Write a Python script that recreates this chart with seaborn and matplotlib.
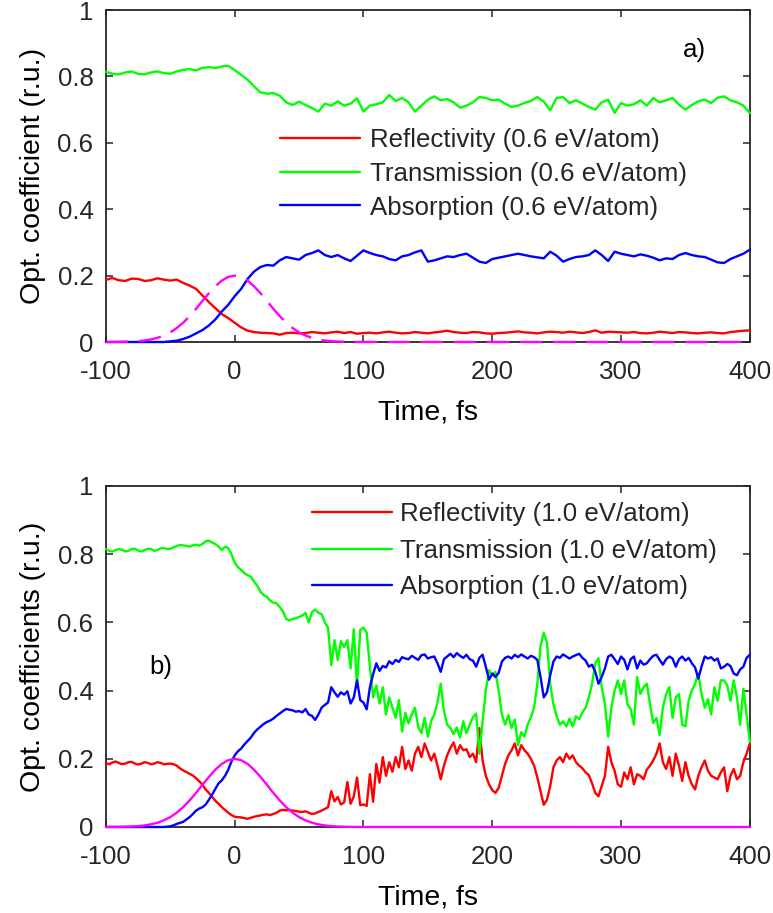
import numpy as np
import matplotlib
matplotlib.use("Agg")
import matplotlib.pyplot as plt
import seaborn as sns

# ---------------- data ----------------
# panel a: 0.6 eV/atom, sampled every 5 fs from -100 to 400 fs
t_a = np.arange(-100, 400.1, 5.0)

R_a = [0.187, 0.193, 0.186, 0.184, 0.191, 0.190, 0.184, 0.186, 0.192, 0.188,
       0.185, 0.188, 0.178, 0.170, 0.160, 0.140, 0.120, 0.102, 0.084, 0.072,
       0.058, 0.044, 0.034, 0.030, 0.028, 0.027, 0.026, 0.022, 0.027, 0.028,
       0.026, 0.027, 0.030, 0.028, 0.026, 0.029, 0.031, 0.027, 0.030, 0.025,
       0.027, 0.028, 0.026, 0.029, 0.031, 0.028, 0.026, 0.027, 0.030, 0.028,
       0.026, 0.029, 0.031, 0.034, 0.030, 0.028, 0.027, 0.030, 0.029, 0.026,
       0.025, 0.027, 0.028, 0.030, 0.032, 0.029, 0.028, 0.026, 0.029, 0.031,
       0.030, 0.028, 0.031, 0.029, 0.027, 0.030, 0.035, 0.028, 0.031, 0.030,
       0.029, 0.028, 0.030, 0.027, 0.026, 0.028, 0.031, 0.029, 0.027, 0.030,
       0.029, 0.027, 0.026, 0.028, 0.029, 0.027, 0.026, 0.030, 0.032, 0.034,
       0.035]

T_a = [0.814, 0.808, 0.806, 0.812, 0.815, 0.808, 0.806, 0.812, 0.815, 0.810,
       0.808, 0.815, 0.820, 0.822, 0.818, 0.826, 0.828, 0.825, 0.830, 0.832,
       0.819, 0.805, 0.790, 0.770, 0.752, 0.748, 0.750, 0.742, 0.722, 0.714,
       0.724, 0.714, 0.705, 0.694, 0.718, 0.712, 0.725, 0.712, 0.718, 0.734,
       0.694, 0.712, 0.716, 0.722, 0.744, 0.726, 0.735, 0.722, 0.694, 0.712,
       0.730, 0.740, 0.728, 0.732, 0.722, 0.706, 0.712, 0.722, 0.738, 0.735,
       0.728, 0.730, 0.718, 0.708, 0.712, 0.720, 0.726, 0.738, 0.724, 0.698,
       0.735, 0.738, 0.720, 0.728, 0.718, 0.708, 0.700, 0.722, 0.730, 0.690,
       0.720, 0.712, 0.716, 0.728, 0.712, 0.735, 0.722, 0.728, 0.735, 0.715,
       0.700, 0.714, 0.725, 0.730, 0.720, 0.736, 0.740, 0.728, 0.722, 0.712,
       0.690]

A_a = [0.000, 0.000, 0.000, 0.000, 0.000, 0.000, 0.000, 0.000, 0.000, 0.000,
       0.002, 0.004, 0.009, 0.016, 0.026, 0.036, 0.050, 0.068, 0.092, 0.112,
       0.138, 0.160, 0.190, 0.212, 0.226, 0.232, 0.230, 0.246, 0.256, 0.252,
       0.248, 0.262, 0.268, 0.276, 0.262, 0.256, 0.262, 0.252, 0.244, 0.260,
       0.276, 0.268, 0.262, 0.258, 0.250, 0.246, 0.258, 0.262, 0.270, 0.276,
       0.242, 0.246, 0.252, 0.258, 0.256, 0.262, 0.266, 0.254, 0.242, 0.238,
       0.250, 0.254, 0.258, 0.262, 0.266, 0.262, 0.258, 0.255, 0.252, 0.272,
       0.260, 0.242, 0.250, 0.256, 0.258, 0.262, 0.276, 0.262, 0.244, 0.272,
       0.266, 0.262, 0.258, 0.264, 0.260, 0.254, 0.246, 0.252, 0.250, 0.262,
       0.268, 0.262, 0.258, 0.256, 0.248, 0.240, 0.238, 0.250, 0.258, 0.266,
       0.278]

# panel b: 1.0 eV/atom, sampled every 2.5 fs from -100 to 400 fs
t_b = np.arange(-100, 400.1, 2.5)

R_b = [0.187, 0.184, 0.189, 0.192, 0.188, 0.184, 0.186, 0.190, 0.191, 0.186,
       0.183, 0.186, 0.190, 0.188, 0.184, 0.186, 0.190, 0.188, 0.184, 0.185,
       0.186, 0.184, 0.180, 0.172, 0.166, 0.161, 0.156, 0.151, 0.143, 0.134,
       0.124, 0.110, 0.100, 0.088, 0.077, 0.068, 0.058, 0.050, 0.042, 0.035,
       0.030, 0.029, 0.028, 0.026, 0.024, 0.027, 0.030, 0.032, 0.034, 0.036,
       0.037, 0.035, 0.038, 0.042, 0.048, 0.050, 0.049, 0.050, 0.048, 0.047,
       0.045, 0.044, 0.046, 0.042, 0.038, 0.040, 0.044, 0.048, 0.053, 0.058,
       0.105, 0.075, 0.088, 0.066, 0.072, 0.132, 0.068, 0.090, 0.145, 0.064,
       0.066, 0.062, 0.155, 0.074, 0.185, 0.130, 0.205, 0.150, 0.190, 0.162,
       0.205, 0.175, 0.235, 0.170, 0.195, 0.165, 0.215, 0.235, 0.205, 0.245,
       0.220, 0.195, 0.215, 0.180, 0.140, 0.180, 0.210, 0.232, 0.248, 0.215,
       0.240, 0.225, 0.228, 0.205, 0.215, 0.190, 0.290, 0.195, 0.150, 0.125,
       0.108, 0.100, 0.115, 0.150, 0.185, 0.210, 0.225, 0.245, 0.210, 0.240,
       0.225, 0.215, 0.200, 0.180, 0.145, 0.105, 0.065, 0.080, 0.120, 0.175,
       0.195, 0.205, 0.190, 0.215, 0.200, 0.210, 0.190, 0.180, 0.172, 0.160,
       0.152, 0.128, 0.100, 0.090, 0.120, 0.150, 0.235, 0.190, 0.165, 0.125,
       0.118, 0.160, 0.140, 0.175, 0.125, 0.155, 0.150, 0.140, 0.168, 0.180,
       0.195, 0.215, 0.245, 0.190, 0.170, 0.205, 0.150, 0.215, 0.180, 0.135,
       0.190, 0.150, 0.125, 0.110, 0.150, 0.175, 0.195, 0.165, 0.150, 0.145,
       0.140, 0.160, 0.175, 0.105, 0.150, 0.170, 0.140, 0.150, 0.190, 0.215,
       0.245]

T_b = [0.815, 0.810, 0.808, 0.812, 0.815, 0.813, 0.808, 0.810, 0.815, 0.816,
       0.811, 0.808, 0.812, 0.816, 0.815, 0.810, 0.812, 0.817, 0.818, 0.815,
       0.816, 0.820, 0.824, 0.827, 0.826, 0.824, 0.822, 0.826, 0.828, 0.825,
       0.830, 0.838, 0.840, 0.834, 0.830, 0.822, 0.812, 0.822, 0.818, 0.800,
       0.775, 0.762, 0.754, 0.745, 0.738, 0.734, 0.720, 0.708, 0.690, 0.680,
       0.675, 0.664, 0.658, 0.656, 0.645, 0.632, 0.610, 0.606, 0.610, 0.612,
       0.616, 0.620, 0.628, 0.600, 0.630, 0.638, 0.628, 0.624, 0.600, 0.585,
       0.475, 0.548, 0.490, 0.545, 0.528, 0.548, 0.465, 0.580, 0.410, 0.578,
       0.585, 0.570, 0.470, 0.380, 0.415, 0.362, 0.410, 0.330, 0.380, 0.350,
       0.320, 0.372, 0.280, 0.335, 0.304, 0.330, 0.350, 0.294, 0.275, 0.320,
       0.265, 0.310, 0.330, 0.365, 0.420, 0.340, 0.300, 0.290, 0.272, 0.292,
       0.262, 0.310, 0.275, 0.300, 0.322, 0.333, 0.215, 0.310, 0.400, 0.460,
       0.445, 0.455, 0.400, 0.330, 0.300, 0.328, 0.290, 0.315, 0.240, 0.278,
       0.265, 0.300, 0.322, 0.350, 0.420, 0.530, 0.570, 0.540, 0.420, 0.360,
       0.325, 0.300, 0.310, 0.295, 0.318, 0.295, 0.325, 0.316, 0.336, 0.350,
       0.380, 0.420, 0.480, 0.495, 0.410, 0.360, 0.265, 0.350, 0.400, 0.430,
       0.390, 0.430, 0.360, 0.345, 0.300, 0.440, 0.390, 0.410, 0.420, 0.360,
       0.305, 0.320, 0.270, 0.350, 0.390, 0.410, 0.320, 0.380, 0.390, 0.300,
       0.295, 0.370, 0.400, 0.420, 0.450, 0.390, 0.350, 0.375, 0.330, 0.410,
       0.370, 0.430, 0.430, 0.415, 0.370, 0.430, 0.380, 0.300, 0.405, 0.330,
       0.250]

A_b = [0.000, 0.000, 0.000, 0.000, 0.000, 0.000, 0.000, 0.000, 0.000, 0.000,
       0.000, 0.000, 0.000, 0.000, 0.000, 0.000, 0.000, 0.000, 0.000, 0.001,
       0.002, 0.005, 0.009, 0.012, 0.015, 0.022, 0.029, 0.038, 0.048, 0.054,
       0.058, 0.066, 0.080, 0.095, 0.112, 0.128, 0.137, 0.150, 0.168, 0.192,
       0.210, 0.222, 0.230, 0.242, 0.252, 0.262, 0.276, 0.286, 0.294, 0.302,
       0.308, 0.312, 0.318, 0.326, 0.333, 0.340, 0.346, 0.344, 0.342, 0.338,
       0.340, 0.336, 0.346, 0.330, 0.326, 0.314, 0.330, 0.350, 0.358, 0.365,
       0.410, 0.395, 0.382, 0.395, 0.388, 0.398, 0.362, 0.380, 0.430, 0.372,
       0.365, 0.345, 0.410, 0.448, 0.480, 0.458, 0.472, 0.468, 0.486, 0.478,
       0.490, 0.484, 0.498, 0.494, 0.492, 0.502, 0.496, 0.490, 0.504, 0.506,
       0.494, 0.498, 0.500, 0.480, 0.455, 0.492, 0.500, 0.508, 0.498, 0.510,
       0.502, 0.496, 0.505, 0.492, 0.488, 0.470, 0.496, 0.505, 0.470, 0.432,
       0.450, 0.440, 0.452, 0.485, 0.496, 0.500, 0.494, 0.505, 0.498, 0.506,
       0.500, 0.494, 0.502, 0.498, 0.490, 0.440, 0.380, 0.395, 0.445, 0.485,
       0.500, 0.496, 0.506, 0.500, 0.494, 0.500, 0.504, 0.508, 0.496, 0.488,
       0.470, 0.476, 0.455, 0.420, 0.440, 0.465, 0.500, 0.505, 0.492, 0.478,
       0.500, 0.490, 0.462, 0.492, 0.500, 0.465, 0.488, 0.476, 0.480, 0.492,
       0.502, 0.505, 0.490, 0.476, 0.492, 0.500, 0.494, 0.470, 0.492, 0.500,
       0.488, 0.496, 0.480, 0.468, 0.435, 0.470, 0.500, 0.494, 0.498, 0.488,
       0.494, 0.465, 0.470, 0.478, 0.472, 0.450, 0.445, 0.462, 0.470, 0.496,
       0.505]

# laser pulse envelope (arb. scale), -100..100 fs every 5 fs, then zero to 400 fs
pulse_t = [-100, -95, -90, -85, -80, -75, -70, -65, -60, -55,
           -50, -45, -40, -35, -30, -25, -20, -15, -10, -5,
           0, 5, 10, 15, 20, 25, 30, 35, 40, 45,
           50, 55, 60, 65, 70, 75, 80, 85, 90, 95,
           100, 400]
pulse = [0.0001, 0.0002, 0.0004, 0.0008, 0.0015, 0.0026, 0.0046, 0.0078, 0.0125, 0.0195,
         0.029, 0.042, 0.058, 0.078, 0.100, 0.124, 0.147, 0.168, 0.185, 0.196,
         0.200, 0.196, 0.185, 0.168, 0.147, 0.124, 0.100, 0.078, 0.058, 0.042,
         0.029, 0.0195, 0.0125, 0.0078, 0.0046, 0.0026, 0.0015, 0.0008, 0.0004, 0.0002,
         0.0001, 0.0]

x_ticks = [-100, 0, 100, 200, 300, 400]
x_ticklabels = ["-100", "0", "100", "200", "300", "400"]
y_ticks = [0, 0.2, 0.4, 0.6, 0.8, 1.0]
y_ticklabels = ["0", "0.2", "0.4", "0.6", "0.8", "1"]

labels_a = ["Reflectivity (0.6 eV/atom)", "Transmission (0.6 eV/atom)",
            "Absorption (0.6 eV/atom)"]
labels_b = ["Reflectivity (1.0 eV/atom)", "Transmission (1.0 eV/atom)",
            "Absorption (1.0 eV/atom)"]

# ---------------- style ----------------
sns.set_theme(style="ticks")
plt.rcParams["font.family"] = ["Liberation Sans", "DejaVu Sans"]
plt.rcParams["axes.unicode_minus"] = False

INK = "#262626"
FS = 18.6
LABEL_FS = 20.5
LW = 1.7
C_R, C_T, C_A, C_P = "#ff0000", "#00ff00", "#0000ff", "#ff00ff"

fig = plt.figure(figsize=(7.73, 9.13), dpi=100)
ax_a = fig.add_axes([0.137, 0.6254, 0.833, 0.3636])
ax_b = fig.add_axes([0.137, 0.0942, 0.833, 0.3735])


def draw_panel(ax, t, R, T, A, labels, pulse_style, ylabel):
    sns.lineplot(x=t, y=R, ax=ax, color=C_R, lw=LW, label=labels[0],
                 clip_on=False, zorder=4)
    sns.lineplot(x=t, y=T, ax=ax, color=C_T, lw=LW, label=labels[1],
                 clip_on=False, zorder=4)
    sns.lineplot(x=t, y=A, ax=ax, color=C_A, lw=LW, label=labels[2],
                 clip_on=False, zorder=4)
    sns.lineplot(x=pulse_t, y=pulse, ax=ax, color=C_P, lw=LW,
                 linestyle=pulse_style, clip_on=False, zorder=5)
    ax.set_xlim(-100, 400)
    ax.set_ylim(0, 1)
    ax.set_xticks(x_ticks)
    ax.set_xticklabels(x_ticklabels)
    ax.set_yticks(y_ticks)
    ax.set_yticklabels(y_ticklabels)
    ax.tick_params(direction="in", top=True, right=True, length=5, width=1.1,
                   colors=INK, labelsize=FS, labelcolor=INK)
    ax.tick_params(axis="x", pad=13)
    ax.tick_params(axis="y", pad=9)
    for s in ax.spines.values():
        s.set_visible(True)
        s.set_color(INK)
        s.set_linewidth(1.3)
        s.set_zorder(3)
    ax.set_xlabel("Time, fs", fontsize=LABEL_FS, color="black", labelpad=11)
    ax.set_ylabel(ylabel, fontsize=LABEL_FS, color="black", labelpad=8)


# panel a
draw_panel(ax_a, t_a, R_a, T_a, A_a, labels_a, (0, (9.5, 4.5)),
           "Opt. coefficient (r.u.)")
ax_a.legend(loc="upper left", bbox_to_anchor=(0.27, 0.645), frameon=False,
            fontsize=FS, handlelength=3.1, handletextpad=0.4,
            labelspacing=0.38, borderpad=0, borderaxespad=0)
ax_a.text(348, 0.88, "a)", fontsize=FS, va="center", ha="left", color="black")

# panel b
draw_panel(ax_b, t_b, R_b, T_b, A_b, labels_b, "-",
           "Opt. coefficients (r.u.)")
ax_b.legend(loc="upper left", bbox_to_anchor=(0.32, 0.952), frameon=False,
            fontsize=FS, handlelength=3.1, handletextpad=0.3,
            labelspacing=0.48, borderpad=0, borderaxespad=0)
ax_b.text(-66, 0.469, "b)", fontsize=FS, va="center", ha="left", color="black")

fig.savefig("out.png", dpi=100)
